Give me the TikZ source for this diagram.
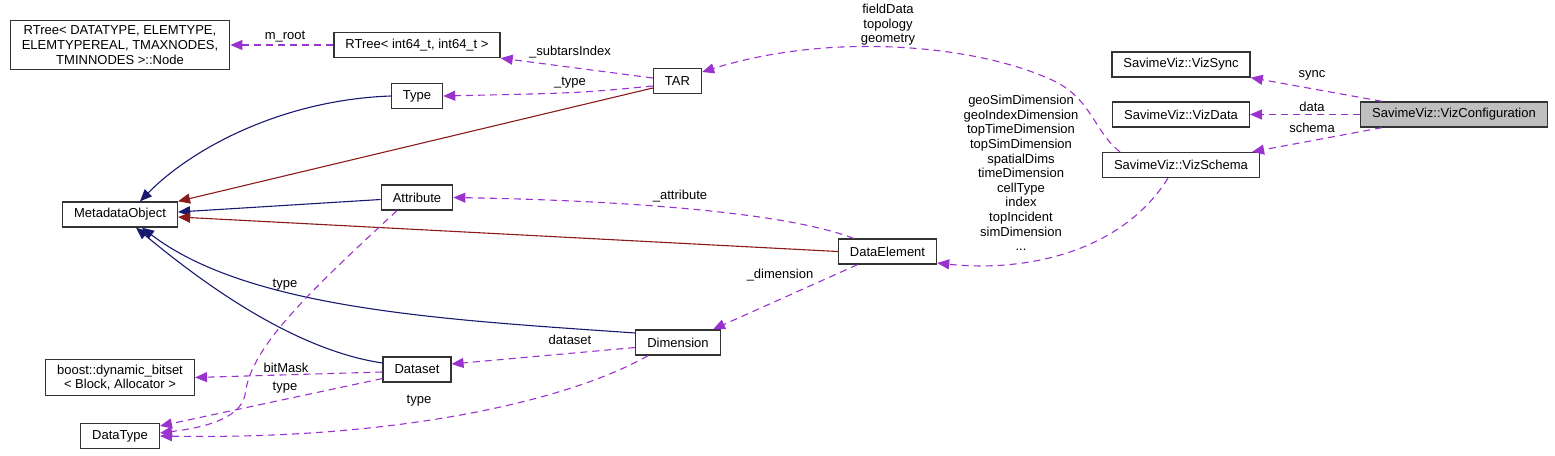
\documentclass[tikz,border=0pt]{standalone}
\usepackage{fontspec}
\setmainfont{Liberation Sans}
\usetikzlibrary{arrows.meta}
\definecolor{mempurple}{HTML}{9A32CD}
\definecolor{pubblue}{HTML}{191970}
\definecolor{prvred}{HTML}{8B1A1A}
\tikzset{
 cls/.style={rectangle,draw=black!80,line width=1.3pt,fill=white,inner xsep=11.5pt,inner ysep=5.5pt,minimum height=25pt,align=center,font=\fontsize{13}{14.6}\selectfont},
 cur/.style={cls,fill=black!25},
 lbl/.style={inner sep=0pt,align=center,font=\fontsize{13}{14.6}\selectfont},
 inh/.style={draw=pubblue,line width=1.1pt,-{Triangle[length=12pt,width=10pt]}},
 prv/.style={inh,draw=prvred},
 mem/.style={draw=mempurple,line width=1.1pt,dash pattern=on 7pt off 5pt,-{Triangle[length=12pt,width=10pt]}}}

\begin{document}
\begin{tikzpicture}[x=1pt,y=-1pt]
 \useasboundingbox (0,0) rectangle (1555,455);
 \node[cls] (rtn) at (120,45) {RTree< DATATYPE, ELEMTYPE,\\ ELEMTYPEREAL, TMAXNODES,\\ TMINNODES >::Node};
 \node[cls] (rti) at (417,45) {RTree< int64\_t, int64\_t >};
 \node[cls] (ty) at (417,96) {Type};
 \node[cls] (tar) at (677.5,81) {TAR};
 \node[cls] (mo) at (120,214.5) {MetadataObject};
 \node[cls] (at) at (417,197.5) {Attribute};
 \node[cls] (de) at (887.5,251.5) {DataElement};
 \node[cls] (dm) at (678,342.5) {Dimension};
 \node[cls] (ds) at (417,369.5) {Dataset};
 \node[cls] (bst) at (120,377.5) {boost::dynamic\_bitset\\< Block, Allocator >};
 \node[cls] (dt) at (120,436) {DataType};
 \node[cls] (sync) at (1181,64.5) {SavimeViz::VizSync};
 \node[cls] (vd) at (1181,114.5) {SavimeViz::VizData};
 \node[cls] (sch) at (1181,165) {SavimeViz::VizSchema};
 \node[cur] (vc) at (1454,114.5) {SavimeViz::VizConfiguration};

 % inheritance
 \draw[inh] (ty.west) .. controls (280,100) and (190,150) .. ([xshift=20pt]mo.north);
 \draw[prv] ([yshift=-7pt]tar.west) -- (mo.north east);
 \draw[inh] ([yshift=-2pt]at.west) -- ([yshift=2.5pt]mo.east);
 \draw[prv] (de.west) -- ([yshift=-2.5pt]mo.east);
 \draw[inh] ([yshift=9.5pt]dm.west) .. controls (450,320) and (250,310) .. ([xshift=22pt]mo.south);
 \draw[inh] ([yshift=6.5pt]ds.west) .. controls (295,350) and (205,285) .. ([xshift=16pt]mo.south);

 % members
 \draw[mem] (rti) -- (rtn);
 \draw[mem] ([yshift=3pt]tar.west) -- (rti.south east);
 \draw[mem] ([yshift=-5pt]tar.west) .. controls (580,93) .. (ty.east);
 \draw[mem] ([xshift=-34pt]de.north) .. controls (780,210) and (600,200) .. (at.east);
 \draw[mem] ([xshift=-30pt]de.south) -- ([xshift=35pt]dm.north);
 \draw[mem] ([yshift=-5pt]dm.west) -- ([yshift=5.5pt]ds.east);
 \draw[mem] ([yshift=-2.5pt]ds.west) -- (bst.east);
 \draw[mem] ([yshift=-9pt]ds.west) -- ([yshift=10pt]dt.east);
 \draw[mem] ([xshift=-20pt]at.south) .. controls (300,300) and (250,350) .. (245,395)
  .. controls (240,420) and (200,428) .. ([yshift=3pt]dt.east);
 \draw[mem] ([xshift=-30pt]dm.south) .. controls (570,400) and (400,440) .. (dt.east);
 \draw[mem] ([xshift=-13pt]sch.south) .. controls (1120,255) and (1020,272) .. ([yshift=-11.5pt]de.east);
 \draw[mem] ([xshift=-61pt]sch.north) .. controls (1092,130) and (1092,95) .. (1045,77)
  .. controls (970,45) and (830,32) .. ([yshift=9pt]tar.east);
 \draw[mem] ([xshift=-72pt]vc.north) -- (sync.south east);
 \draw[mem] (vc) -- (vd);
 \draw[mem] ([xshift=-72pt]vc.south) -- ([xshift=-8pt]sch.north east);

 % edge labels
 \node[lbl] (lroot) at (285,37) {m\_root};
 \node[lbl] (lsub) at (570,52) {\_subtarsIndex};
 \node[lbl] (ltype) at (570,83) {\_type};
 \node[lbl] (lgeo) at (888,25) {fieldData\\topology\\geometry};
 \node[lbl] (ldims) at (1021,173) {geoSimDimension\\geoIndexDimension\\topTimeDimension\\topSimDimension\\spatialDims\\timeDimension\\cellType\\index\\topIncident\\simDimension\\...};
 \node[lbl] (lsync) at (1312,75) {sync};
 \node[lbl] (ldata) at (1312,107) {data};
 \node[lbl] (lschema) at (1312,128) {schema};
 \node[lbl] (lattr) at (680,196) {\_attribute};
 \node[lbl] (ldim) at (780,275) {\_dimension};
 \node[lbl] (latype) at (285,285) {type};
 \node[lbl] (ldset) at (570,340) {dataset};
 \node[lbl] (lmask) at (286,368) {bitMask};
 \node[lbl] (lstype) at (285,388) {type};
 \node[lbl] (ldtype) at (419,401) {type};
\end{tikzpicture}
\end{document}
